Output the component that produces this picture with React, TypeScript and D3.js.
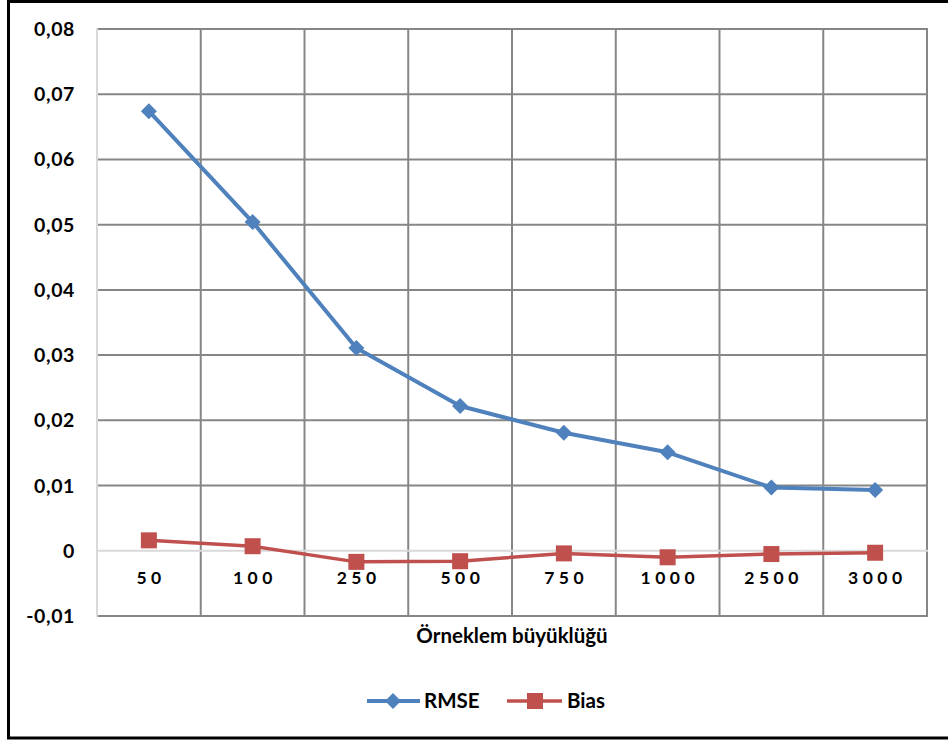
import React from "react";
import * as d3 from "d3";

const categories = ["50", "100", "250", "500", "750", "1000", "2500", "3000"];
const rmseValues = [0.0674, 0.0504, 0.0311, 0.0222, 0.0181, 0.0151, 0.0097, 0.0093];
const biasValues = [0.0016, 0.0007, -0.0017, -0.0016, -0.0004, -0.001, -0.0005, -0.0003];
const yTicks = [-0.01, 0, 0.01, 0.02, 0.03, 0.04, 0.05, 0.06, 0.07, 0.08];
const xTitle = "Örneklem büyüklüğü";
const seriesNames = ["RMSE", "Bias"];

const W = 948;
const H = 740;
const plot = { left: 97, right: 927, top: 29, bottom: 616 };
const BLUE = "#4F81BD";
const RED = "#C0504D";
const GRID = "#868686";
const AXIS = "#D9D9D9";
const FONT = "Lato, 'Open Sans', sans-serif";

const fmt = (v: number) => {
  if (Math.abs(v) < 1e-9) return "0";
  return v.toFixed(2).replace(".", ",");
};

export default function App() {
  const x = d3
    .scaleBand<string>()
    .domain(categories)
    .range([plot.left, plot.right])
    .padding(0);
  const y = d3.scaleLinear().domain([-0.01, 0.08]).range([plot.bottom, plot.top]);
  const cx = (c: string) => (x(c) ?? 0) + x.bandwidth() / 2;

  const line = d3
    .line<number>()
    .x((_, i) => cx(categories[i]))
    .y((d) => y(d));

  const boundaries = categories.map((c) => x(c) ?? 0).concat([plot.right]);

  const diamond = (px: number, py: number, r: number) =>
    `M${px},${py - r}L${px + r},${py}L${px},${py + r}L${px - r},${py}Z`;

  const xSpacing = 4.5;

  return (
    <svg
      width={W}
      height={H}
      style={{ position: "absolute", left: 0, top: 0, background: "#fff" }}
      fontFamily={FONT}
    >
      <rect x={0} y={0} width={W} height={H} fill="#fff" />
      {/* chart frame */}
      <rect x={8.5} y={1.5} width={W + 20} height={736.5} fill="none" stroke="#000" strokeWidth={3} />

      {/* horizontal gridlines */}
      {yTicks
        .filter((t) => t !== 0)
        .map((t) => (
          <line
            key={"h" + t}
            x1={plot.left}
            x2={plot.right + 1}
            y1={y(t)}
            y2={y(t)}
            stroke={GRID}
            strokeWidth={2}
          />
        ))}
      {/* vertical gridlines */}
      {boundaries.slice(1).map((bx, i) => (
        <line
          key={"v" + i}
          x1={bx}
          x2={bx}
          y1={plot.top - 1}
          y2={plot.bottom + 1}
          stroke={GRID}
          strokeWidth={2}
        />
      ))}
      {/* value axis and zero line */}
      <line x1={plot.left} x2={plot.left} y1={plot.top - 1} y2={plot.bottom + 1} stroke={AXIS} strokeWidth={2} />
      <line x1={plot.left} x2={plot.right + 1} y1={y(0)} y2={y(0)} stroke={AXIS} strokeWidth={2} />

      {/* y tick labels */}
      {yTicks.map((t) => (
        <text
          key={"yl" + t}
          x={75}
          y={y(t)}
          dy="0.36em"
          textAnchor="end"
          fontSize={19.5}
          fontWeight={700}
          letterSpacing={0.6}
          fill="#000"
        >
          {fmt(t)}
        </text>
      ))}

      {/* category labels */}
      {categories.map((c) => (
        <text
          key={"xl" + c}
          x={cx(c) + xSpacing / 2}
          y={584}
          textAnchor="middle"
          fontSize={17.5}
          fontWeight={700}
          letterSpacing={xSpacing}
          fill="#000"
        >
          {c}
        </text>
      ))}

      {/* axis title */}
      <text x={512} y={643} textAnchor="middle" fontSize={20.5} fontWeight={700} fill="#000">
        {xTitle}
      </text>

      {/* series: RMSE */}
      <path d={line(rmseValues) ?? ""} fill="none" stroke={BLUE} strokeWidth={4} strokeLinejoin="round" />
      {rmseValues.map((v, i) => (
        <path key={"d" + i} d={diamond(cx(categories[i]), y(v), 8)} fill={BLUE} />
      ))}

      {/* series: Bias */}
      <path d={line(biasValues) ?? ""} fill="none" stroke={RED} strokeWidth={3.5} strokeLinejoin="round" />
      {biasValues.map((v, i) => (
        <rect
          key={"s" + i}
          x={cx(categories[i]) - 8}
          y={y(v) - 8}
          width={16}
          height={16}
          fill={RED}
        />
      ))}

      {/* legend */}
      <g>
        <line x1={367} x2={420} y1={701} y2={701} stroke={BLUE} strokeWidth={4} />
        <path d={diamond(393, 701, 8)} fill={BLUE} />
        <text x={424} y={708} fontSize={20.5} fontWeight={700} fill="#000">
          {seriesNames[0]}
        </text>
        <line x1={507} x2={562} y1={701} y2={701} stroke={RED} strokeWidth={3.5} />
        <rect x={527} y={693} width={16} height={16} fill={RED} />
        <text x={567} y={708} fontSize={20.5} fontWeight={700} fill="#000">
          {seriesNames[1]}
        </text>
      </g>
    </svg>
  );
}
